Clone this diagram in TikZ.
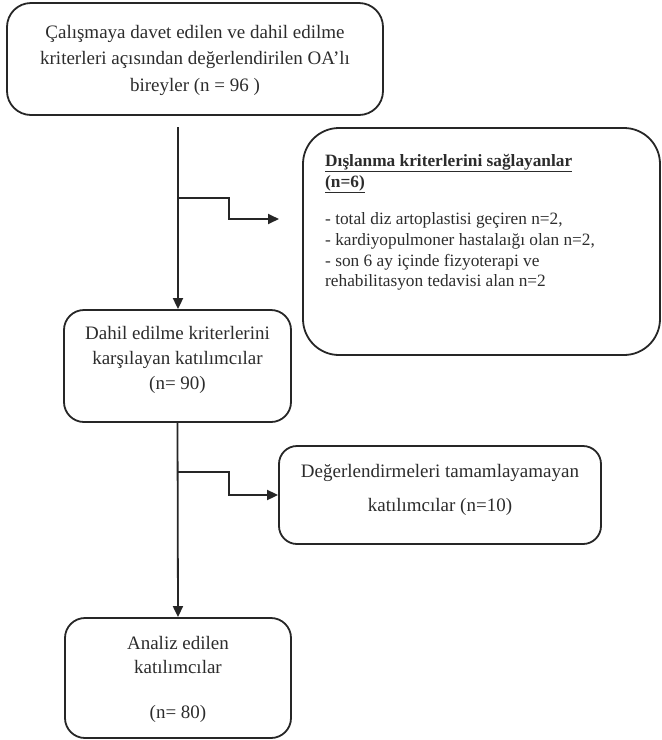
\documentclass[tikz,border=0pt]{standalone}
\usepackage{fontspec}
\setmainfont{Liberation Serif}
\usetikzlibrary{arrows.meta}
\definecolor{ink}{HTML}{262626}
\definecolor{txtc}{HTML}{2C2C2C}
\begin{document}
\begin{tikzpicture}[x=1pt,y=-1pt,
  box/.style={draw=ink, line width=1.8pt, inner sep=0pt, fill=none},
  txt/.style={text=txtc, align=center, inner sep=0pt, font=\fontsize{19}{26.5}\selectfont},
  conn/.style={draw=ink, line width=1.8pt, -{Triangle[length=11pt,width=10pt]}}]
\useasboundingbox (0,0) rectangle (662,740);
% boxes
\node[box, rounded corners=24pt, minimum width=376pt, minimum height=112pt] (top) at (195,59) {};
\node[txt] (toptxt) at (195,60) {Çalışmaya davet edilen ve dahil edilme\\kriterleri açısından değerlendirilen OA’lı\\bireyler (n = 96 )};
\node[box, rounded corners=36pt, minimum width=357pt, minimum height=227pt] (excl) at (481.5,241.5) {};
\node[txt, align=left, anchor=north west, font=\fontsize{17.3}{20.7}\selectfont] (excltxt) at (325,154)
  {\textbf{\underline{Dışlanma kriterlerini sağlayanlar}}\\
   \textbf{\underline{(n=6)}}\\[17pt]
   - total diz artoplastisi geçiren n=2,\\
   - kardiyopulmoner hastalaığı olan n=2,\\
   - son 6 ay içinde fizyoterapi ve\\
   rehabilitasyon tedavisi alan n=2};
\node[box, rounded corners=20pt, minimum width=227pt, minimum height=112pt] (dahil) at (177.5,366) {};
\node[txt, font=\fontsize{19}{25}\selectfont] (dahiltxt) at (177.5,360) {Dahil edilme kriterlerini\\karşılayan katılımcılar\\(n= 90)};
\node[box, rounded corners=18pt, minimum width=322pt, minimum height=98pt] (deg) at (440,495) {};
\node[txt, font=\fontsize{19}{26}\selectfont] (degtxt) at (440,490) {Değerlendirmeleri tamamlayamayan\\[8pt]katılımcılar (n=10)};
\node[box, rounded corners=20pt, minimum width=226pt, minimum height=120pt] (analiz) at (178,678) {};
\node[txt, font=\fontsize{19}{24}\selectfont] (analiztxt) at (178,679.5) {Analiz edilen\\katılımcılar\\[21pt](n= 80)};
% connectors
\coordinate (s1) at (178,127);
\coordinate (b1) at (178,198);
\coordinate (e1) at (279,219);
\coordinate (b2) at (177.5,472);
\draw[conn] (s1) -- (s1 |- dahil.north);
\draw[conn] (b1) -- ++(51,0) |- (e1);
\draw[conn] (dahil.south) -- (analiz.north);
\draw[conn] (b2) -- ++(51.5,0) |- (deg.west);
\end{tikzpicture}
\end{document}
